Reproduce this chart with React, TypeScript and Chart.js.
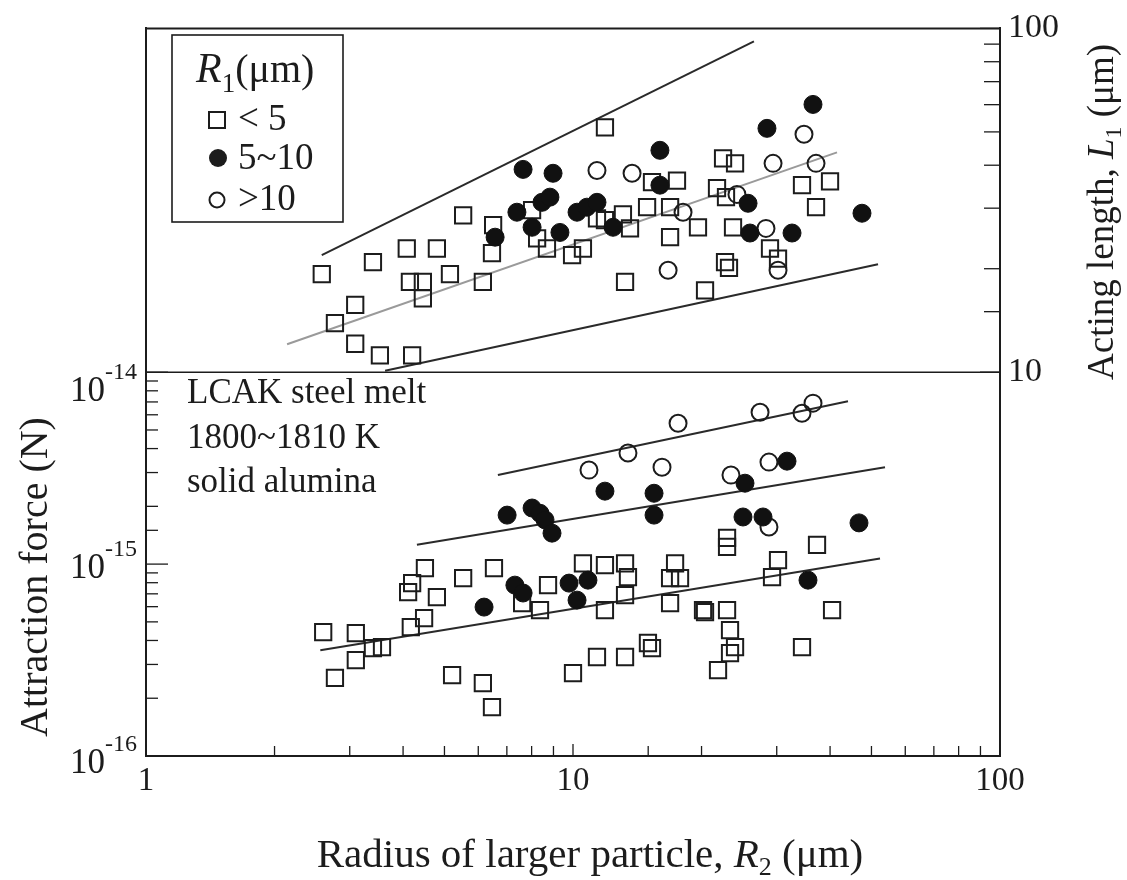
import React, { useEffect, useRef } from 'react';
import { Chart, registerables } from 'chart.js';

Chart.register(...registerables);

// ---------------- data ----------------
// x: radius of larger particle R2 (µm); top panel y: acting length L1 (µm); bottom panel y: attraction force (N)
const X_TICK_LABELS = [1, 10, 100];
const LENGTH_TICK_LABELS = [10, 100];
const FORCE_TICK_EXPONENTS = [-14, -15, -16];

// Top panel: acting length
const topSquares: number[][] = [
  [2.58, 19.3], [2.77, 13.9], [3.09, 15.7], [3.09, 12.1], [3.40, 20.9], [3.53, 11.2], [4.08, 22.9], [4.15, 18.3],
  [4.20, 11.2], [4.45, 18.3], [4.45, 16.4], [4.80, 22.9], [5.15, 19.3], [5.53, 28.6], [6.15, 18.3], [6.46, 22.2],
  [6.50, 26.8], [8.02, 29.6], [8.24, 24.5], [8.69, 22.9], [9.95, 21.9], [10.55, 22.9], [11.38, 28.0], [11.88, 51.5],
  [11.88, 27.7], [13.09, 28.8], [13.60, 26.2], [14.91, 30.2], [15.31, 35.7], [16.88, 30.2], [16.88, 24.7], [17.52, 36.1],
  [19.62, 26.4], [13.24, 18.3], [20.38, 17.3], [21.74, 34.3], [22.46, 41.9], [22.82, 32.3], [23.96, 40.5], [23.70, 26.4],
  [22.70, 20.9], [23.19, 20.1], [28.93, 22.9], [30.21, 21.4], [34.38, 35.0], [37.08, 30.2], [39.99, 35.9],
];
const topFilled: number[][] = [
  [6.57, 24.7], [7.39, 29.2], [7.64, 38.9], [8.02, 26.4], [8.46, 31.2], [8.83, 32.3], [8.98, 37.9], [9.32, 25.5],
  [10.22, 29.2], [10.78, 30.2], [11.38, 31.2], [12.41, 26.4], [15.98, 44.2], [15.98, 35.0], [25.70, 31.0], [25.97, 25.4],
  [28.46, 51.2], [32.58, 25.4], [36.48, 60.1], [47.51, 29.0],
];
const topOpen: number[][] = [
  [11.38, 38.6], [13.75, 37.9], [18.10, 29.2], [16.70, 19.8], [24.21, 32.9], [28.31, 26.2], [29.41, 40.5], [30.21, 19.8],
  [34.75, 49.2], [37.08, 40.5],
];
const topUpperLine: number[][] = [[2.58, 21.9], [26.53, 91.7]];
const topFitLine: number[][] = [[2.14, 12.06], [41.52, 43.6]];
const topLowerLine: number[][] = [[3.63, 10.1], [51.8, 20.6]];

// Bottom panel: attraction force
const bottomSquares: number[][] = [
  [2.60, 0.442e-15], [3.10, 0.437e-15], [2.77, 0.255e-15], [3.10, 0.316e-15], [3.40, 0.365e-15], [3.57, 0.369e-15],
  [4.17, 0.470e-15], [4.48, 0.523e-15], [4.80, 0.673e-15], [4.11, 0.715e-15], [4.20, 0.796e-15], [4.50, 0.953e-15],
  [5.53, 0.845e-15], [6.53, 0.953e-15], [8.74, 0.777e-15], [7.60, 0.626e-15], [8.37, 0.576e-15], [10.55, 1.01e-15],
  [11.88, 0.988e-15], [11.88, 0.576e-15], [13.24, 1.01e-15], [13.45, 0.856e-15], [13.24, 0.690e-15], [17.34, 1.01e-15],
  [16.88, 0.845e-15], [17.81, 0.845e-15], [16.88, 0.626e-15], [20.16, 0.576e-15], [20.38, 0.562e-15], [22.95, 0.576e-15],
  [23.32, 0.453e-15], [23.96, 0.369e-15], [23.32, 0.344e-15], [21.86, 0.280e-15], [22.95, 1.37e-15], [22.95, 1.23e-15],
  [37.28, 1.26e-15], [30.21, 1.05e-15], [29.25, 0.856e-15], [40.43, 0.576e-15], [34.38, 0.369e-15], [5.21, 0.264e-15],
  [6.15, 0.240e-15], [6.46, 0.180e-15], [10.0, 0.270e-15], [11.38, 0.328e-15], [13.24, 0.328e-15], [14.98, 0.388e-15],
  [15.31, 0.365e-15],
];
const bottomFilled: number[][] = [
  [31.71, 3.44e-15], [11.88, 2.40e-15], [15.48, 2.34e-15], [25.28, 2.64e-15], [7.01, 1.80e-15], [8.02, 1.96e-15],
  [8.37, 1.84e-15], [8.60, 1.70e-15], [8.93, 1.45e-15], [15.48, 1.80e-15], [25.01, 1.76e-15], [27.86, 1.76e-15],
  [46.75, 1.64e-15], [35.51, 0.825e-15], [6.19, 0.597e-15], [7.31, 0.777e-15], [7.64, 0.707e-15], [9.79, 0.796e-15],
  [10.22, 0.649e-15], [10.84, 0.825e-15],
];
const bottomOpen: number[][] = [
  [17.62, 5.42e-15], [27.42, 6.19e-15], [34.38, 6.11e-15], [36.48, 6.90e-15], [13.45, 3.79e-15], [10.90, 3.09e-15],
  [16.16, 3.20e-15], [28.77, 3.40e-15], [23.44, 2.91e-15], [28.77, 1.56e-15],
];
const bottomOpenLine: number[][] = [[6.67, 2.91e-15], [44.06, 7.06e-15]];
const bottomFilledLine: number[][] = [[4.31, 1.26e-15], [53.79, 3.20e-15]];
const bottomSquareLine: number[][] = [[2.56, 0.356e-15], [52.36, 1.07e-15]];

const LEGEND_LABELS = ['< 5', '5~10', '>10'];
const NOTE_LINES = ['LCAK steel melt', '1800~1810 K', 'solid alumina'];

// ---------------- layout / style ----------------
const W = 1127;
const H = 880;
const SERIF = '"Liberation Serif", "Times New Roman", Times, "DejaVu Serif", serif';
const INK = '#1c1c1c';
const TOP_PANEL_PX = 344;
const BOTTOM_PANEL_PX = 384;
const FORCE_MIN = 1e-16;
const FORCE_TOP = 1e-14;
const LEN_MIN_SHOWN = 10;
const LEN_MAX = 100;
const FORCE_MAX_EXT = FORCE_TOP * Math.pow(10, (2 * TOP_PANEL_PX) / BOTTOM_PANEL_PX);
const LEN_MIN_EXT = LEN_MIN_SHOWN / Math.pow(10, BOTTOM_PANEL_PX / TOP_PANEL_PX);

const pts = (arr: number[][]) => arr.map(([x, y]) => ({ x, y }));
const isPow10 = (v: number) => Math.abs(Math.log10(v) - Math.round(Math.log10(v))) < 1e-6;

function line(ctx: CanvasRenderingContext2D, x1: number, y1: number, x2: number, y2: number) {
  ctx.beginPath();
  ctx.moveTo(x1, y1);
  ctx.lineTo(x2, y2);
  ctx.stroke();
}

type Piece = { t: string; font: string; dy?: number };
function drawPieces(ctx: CanvasRenderingContext2D, pieces: Piece[], cx: number, baseY: number, align: 'center' | 'left') {
  let total = 0;
  const widths = pieces.map((p) => {
    ctx.font = p.font;
    const w = ctx.measureText(p.t).width;
    total += w;
    return w;
  });
  let x = align === 'center' ? cx - total / 2 : cx;
  ctx.textAlign = 'left';
  ctx.textBaseline = 'alphabetic';
  pieces.forEach((p, i) => {
    ctx.font = p.font;
    ctx.fillText(p.t, x, baseY + (p.dy || 0));
    x += widths[i];
  });
}

const decorPlugin = {
  id: 'decor',
  afterDraw(chart: any) {
    const { ctx, chartArea: a, scales } = chart;
    const xs = scales.x;
    const yF = scales.yF;
    const yL = scales.yLen;
    ctx.save();
    ctx.strokeStyle = INK;
    ctx.fillStyle = INK;
    ctx.lineCap = 'butt';

    // top frame line and panel divider
    ctx.lineWidth = 2;
    line(ctx, a.left - 1, a.top, a.right + 1, a.top);
    ctx.lineWidth = 1.6;
    const yDiv = yF.getPixelForValue(FORCE_TOP);
    line(ctx, a.left, yDiv, a.right, yDiv);

    // inward tick marks
    ctx.lineWidth = 1.3;
    for (const t of xs.ticks) {
      const px = xs.getPixelForValue(t.value);
      line(ctx, px, a.bottom, px, a.bottom - (isPow10(t.value) ? 12 : 10));
    }
    for (const t of yF.ticks) {
      const py = yF.getPixelForValue(t.value);
      line(ctx, a.left, py, a.left + (isPow10(t.value) ? 22 : 12), py);
    }
    for (const t of yL.ticks) {
      const py = yL.getPixelForValue(t.value);
      line(ctx, a.right, py, a.right - (isPow10(t.value) ? 20 : 16), py);
    }

    // left tick labels 10^n
    const nudge: Record<number, number> = { [-14]: 15, [-15]: 0, [-16]: 3 };
    for (const e of FORCE_TICK_EXPONENTS) {
      const py = yF.getPixelForValue(Math.pow(10, e)) + (nudge[e] || 0);
      ctx.font = `24px ${SERIF}`;
      const sup = String(e);
      const sw = ctx.measureText(sup).width;
      const sx = 137 - sw;
      ctx.textAlign = 'left';
      ctx.textBaseline = 'alphabetic';
      ctx.fillText(sup, sx, py - 8);
      ctx.font = `35px ${SERIF}`;
      ctx.textAlign = 'right';
      ctx.fillText('10', sx, py + 14);
    }

    // axis titles
    const sub = `26px ${SERIF}`;
    drawPieces(
      ctx,
      [
        { t: 'Radius of larger particle, ', font: `41px ${SERIF}` },
        { t: 'R', font: `italic 41px ${SERIF}` },
        { t: '2', font: sub, dy: 8 },
        { t: ' (\u03bcm)', font: `41px ${SERIF}` },
      ],
      590,
      867,
      'center'
    );
    ctx.save();
    ctx.translate(47, 577);
    ctx.rotate(-Math.PI / 2);
    drawPieces(ctx, [{ t: 'Attraction force (N)', font: `40px ${SERIF}` }], 0, 0, 'center');
    ctx.restore();
    ctx.save();
    ctx.translate(1113, 212);
    ctx.rotate(-Math.PI / 2);
    drawPieces(
      ctx,
      [
        { t: 'Acting length, ', font: `37px ${SERIF}` },
        { t: 'L', font: `italic 37px ${SERIF}` },
        { t: '1', font: `24px ${SERIF}`, dy: 8 },
        { t: ' (\u03bcm)', font: `37px ${SERIF}` },
      ],
      0,
      0,
      'center'
    );
    ctx.restore();

    // annotation
    ctx.font = `35px ${SERIF}`;
    ctx.textAlign = 'left';
    ctx.textBaseline = 'alphabetic';
    NOTE_LINES.forEach((s, i) => ctx.fillText(s, 187, 403 + i * 44.5));

    // legend box
    ctx.lineWidth = 1.6;
    ctx.strokeRect(172, 35, 171, 187);
    drawPieces(
      ctx,
      [
        { t: 'R', font: `italic 42px ${SERIF}` },
        { t: '1', font: `27px ${SERIF}`, dy: 10 },
        { t: '(\u03bcm)', font: `40px ${SERIF}` },
      ],
      196,
      82,
      'left'
    );
    ctx.lineWidth = 2;
    ctx.strokeRect(209, 112, 16, 16);
    ctx.beginPath();
    ctx.arc(218, 158, 9, 0, Math.PI * 2);
    ctx.fill();
    ctx.beginPath();
    ctx.arc(217, 200, 7.5, 0, Math.PI * 2);
    ctx.stroke();
    ctx.font = `37px ${SERIF}`;
    ctx.textAlign = 'left';
    LEGEND_LABELS.forEach((s, i) => ctx.fillText(s, 238, [130, 169, 210][i]));

    ctx.restore();
  },
};

export default function App() {
  const ref = useRef<HTMLCanvasElement | null>(null);

  useEffect(() => {
    if (!ref.current) return;
    const lineDs = (data: number[][], axis: string, color: string) => ({
      data: pts(data),
      yAxisID: axis,
      showLine: true,
      borderColor: color,
      borderWidth: 2,
      pointRadius: 0,
      fill: false,
      order: 10,
    });
    const squareDs = (data: number[][], axis: string) => ({
      data: pts(data),
      yAxisID: axis,
      pointStyle: 'rect',
      pointRadius: 11.5,
      borderWidth: 2,
      borderColor: INK,
      backgroundColor: 'rgba(0,0,0,0)',
      order: 3,
    });
    const filledDs = (data: number[][], axis: string) => ({
      data: pts(data),
      yAxisID: axis,
      pointStyle: 'circle',
      pointRadius: 9,
      borderWidth: 1,
      borderColor: '#111',
      backgroundColor: '#111',
      order: 1,
    });
    const openDs = (data: number[][], axis: string) => ({
      data: pts(data),
      yAxisID: axis,
      pointStyle: 'circle',
      pointRadius: 8.5,
      borderWidth: 2,
      borderColor: INK,
      backgroundColor: 'rgba(0,0,0,0)',
      order: 2,
    });

    const chart = new Chart(ref.current, {
      type: 'scatter',
      data: {
        datasets: [
          squareDs(topSquares, 'yLen'),
          filledDs(topFilled, 'yLen'),
          openDs(topOpen, 'yLen'),
          lineDs(topUpperLine, 'yLen', '#2a2a2a'),
          lineDs(topFitLine, 'yLen', '#9a9a9a'),
          lineDs(topLowerLine, 'yLen', '#2a2a2a'),
          squareDs(bottomSquares, 'yF'),
          filledDs(bottomFilled, 'yF'),
          openDs(bottomOpen, 'yF'),
          lineDs(bottomOpenLine, 'yF', '#2a2a2a'),
          lineDs(bottomFilledLine, 'yF', '#2a2a2a'),
          lineDs(bottomSquareLine, 'yF', '#2a2a2a'),
        ] as any,
      },
      options: {
        responsive: false,
        animation: false,
        devicePixelRatio: 1,
        layout: { padding: { top: 28, left: 0, right: 0, bottom: 0 } },
        plugins: { legend: { display: false }, tooltip: { enabled: false } },
        scales: {
          x: {
            type: 'logarithmic',
            position: 'bottom',
            min: 1,
            max: 100,
            grid: { display: false, drawTicks: false },
            border: { display: true, color: INK, width: 2 },
            ticks: {
              autoSkip: false,
              maxRotation: 0,
              padding: 6,
              color: INK,
              font: { family: SERIF, size: 33 },
              callback: (v: any) => (X_TICK_LABELS.includes(Number(v)) ? String(Number(v)) : ''),
            },
            afterFit: (s: any) => {
              s.height = 124;
            },
          },
          yF: {
            type: 'logarithmic',
            position: 'left',
            min: FORCE_MIN,
            max: FORCE_MAX_EXT,
            grid: { display: false, drawTicks: false },
            border: { display: true, color: INK, width: 2 },
            ticks: { display: false },
            afterBuildTicks: (s: any) => {
              s.ticks = s.ticks.filter((t: any) => t.value >= FORCE_MIN * 0.999 && t.value <= FORCE_TOP * 1.001);
            },
            afterFit: (s: any) => {
              s.width = 146;
            },
          },
          yLen: {
            type: 'logarithmic',
            position: 'right',
            min: LEN_MIN_EXT,
            max: LEN_MAX,
            grid: { display: false, drawTicks: false },
            border: { display: true, color: INK, width: 2 },
            ticks: {
              autoSkip: false,
              padding: 8,
              color: INK,
              font: { family: SERIF, size: 34 },
              callback: (v: any) => (LENGTH_TICK_LABELS.includes(Number(v)) ? String(Number(v)) : ''),
            },
            afterBuildTicks: (s: any) => {
              s.ticks = s.ticks.filter((t: any) => t.value >= LEN_MIN_SHOWN * 0.999 && t.value <= LEN_MAX * 1.001);
            },
            afterFit: (s: any) => {
              s.width = 127;
            },
          },
        },
      } as any,
      plugins: [decorPlugin],
    });
    return () => chart.destroy();
  }, []);

  return (
    <div style={{ position: 'absolute', left: 0, top: 0, width: W, height: H, background: '#fff' }}>
      <canvas ref={ref} width={W} height={H} style={{ display: 'block', width: W, height: H }} />
    </div>
  );
}
